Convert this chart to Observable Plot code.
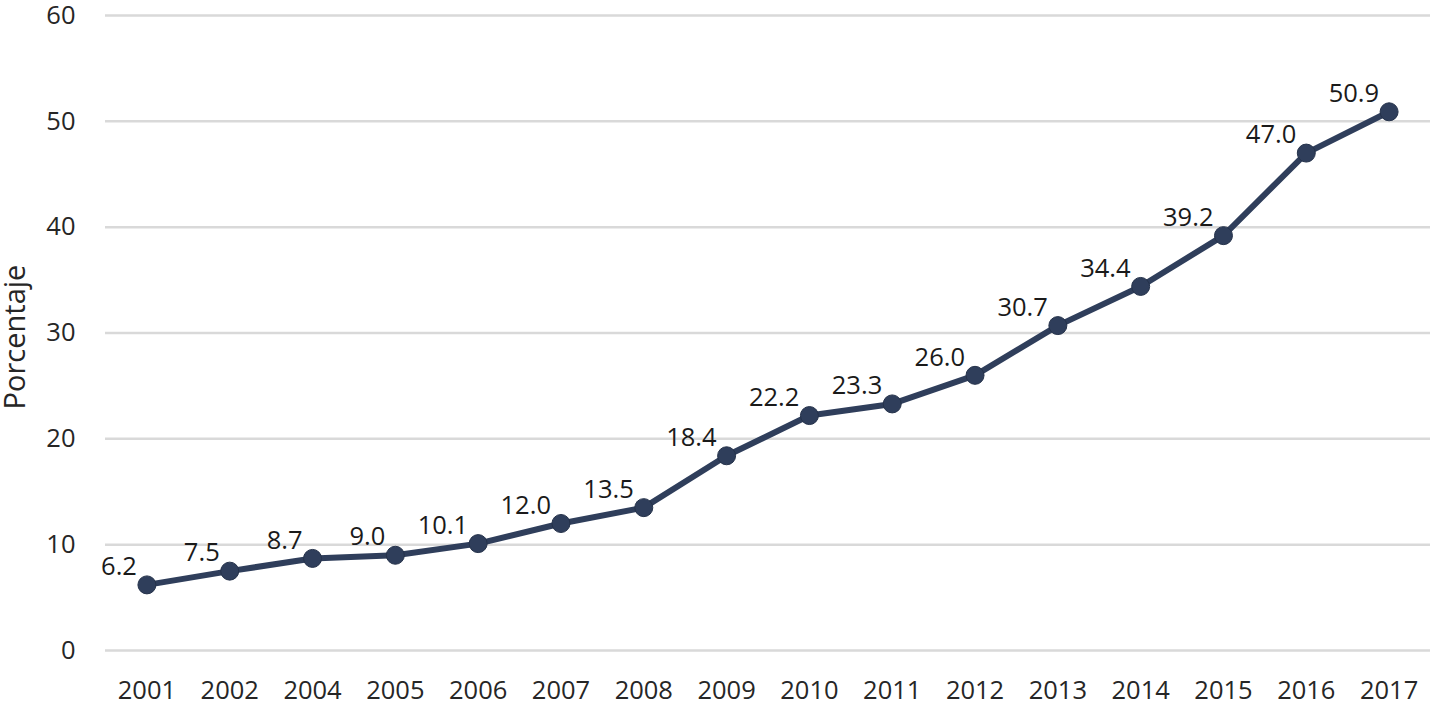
<!DOCTYPE html>
<html><head><meta charset="utf-8">
<script src="https://cdn.jsdelivr.net/npm/d3@7"></script>
<script src="https://cdn.jsdelivr.net/npm/@observablehq/plot@0.6"></script>
<style>body{margin:0;background:#fff}</style>
</head><body><div id="chart"></div>
<script>
const years = ["2001","2002","2004","2005","2006","2007","2008","2009","2010","2011","2012","2013","2014","2015","2016","2017"];
const values = [6.2,7.5,8.7,9.0,10.1,12.0,13.5,18.4,22.2,23.3,26.0,30.7,34.4,39.2,47.0,50.9];
const yTicks = [0,10,20,30,40,50,60];
const yLabel = "Porcentaje";
const data = years.map((year,i)=>({year, value: values[i]}));
const color = "#2f3e5b";
const fs = 25.5;
const chart = Plot.plot({
  width: 1432, height: 707,
  marginLeft: 105, marginRight: 2, marginTop: 15, marginBottom: 57,
  style: {fontFamily: "'Open Sans', sans-serif", fontSize: fs + "px", color: "#262626", background: "#fff", overflow: "visible"},
  x: {type: "point", domain: years, padding: 0.5, round: false},
  y: {domain: [0, 60]},
  marks: [
    Plot.ruleY(yTicks, {stroke: "#d9d9d9", strokeWidth: 2.5}),
    Plot.axisY({ticks: yTicks, tickSize: 0, tickPadding: 30, label: null, fontSize: fs}),
    Plot.axisX({tickSize: 0, tickPadding: 30, label: null, fontSize: fs}),
    Plot.text([yLabel], {frameAnchor: "left", textAnchor: "middle", rotate: -90, dx: -90, dy: 4, text: d => d, fontSize: 29, fill: "#262626"}),
    Plot.line(data, {x: "year", y: "value", stroke: color, strokeWidth: 6}),
    Plot.dot(data, {x: "year", y: "value", r: 9, fill: color, stroke: "#25324a", strokeWidth: 1}),
    Plot.text(data, {x: "year", y: "value", text: d => d.value.toFixed(1), textAnchor: "end", dx: -10, dy: -18, fontSize: fs, fill: "#1a1a1a"})
  ]
});
document.getElementById("chart").append(chart);
</script>
</body></html>
